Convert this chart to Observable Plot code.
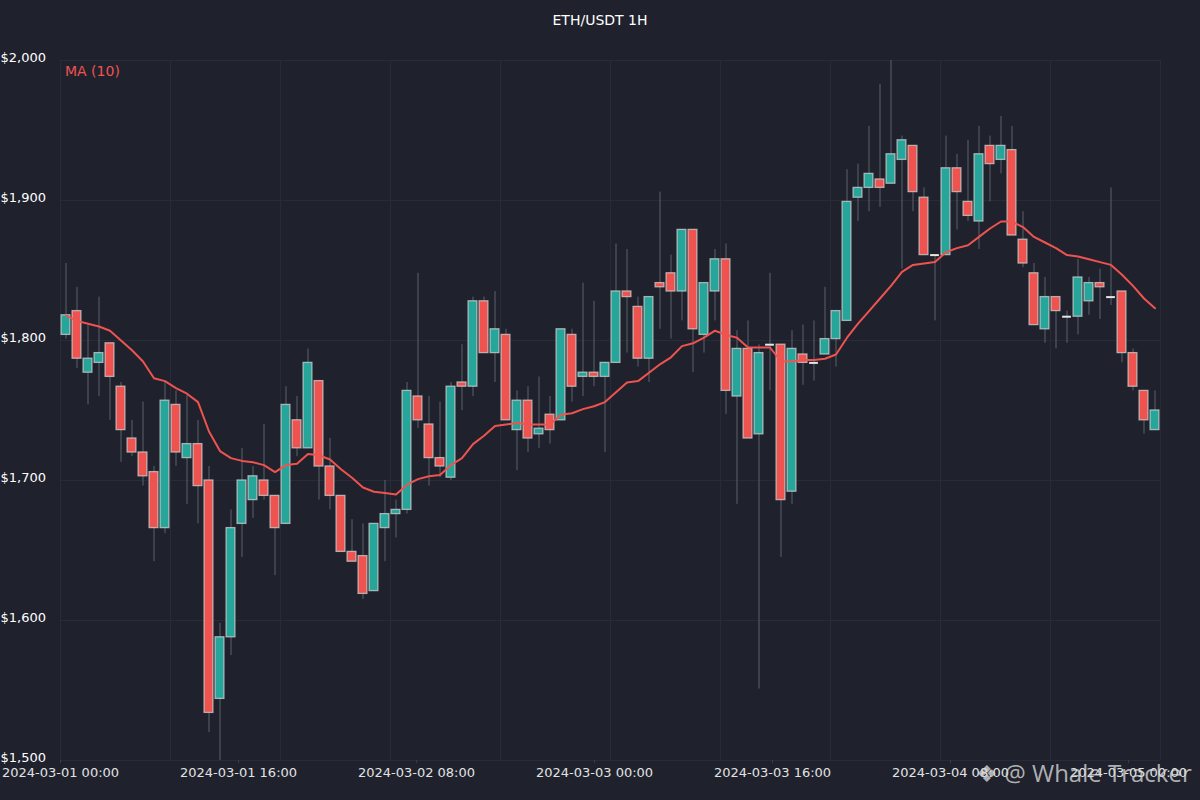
<!DOCTYPE html>
<html>
<head>
<meta charset="utf-8">
<script src="https://cdn.jsdelivr.net/npm/d3@7"></script>
<script src="https://cdn.jsdelivr.net/npm/@observablehq/plot@0.6"></script>
<style>
  html, body { margin: 0; padding: 0; background: #1f222d; }
  #wrap { position: relative; width: 1200px; height: 800px; overflow: hidden; font-family: "DejaVu Sans", sans-serif; }
  #title { position: absolute; top: 12px; left: 0; width: 1200px; text-align: center; color: #fff; font-size: 14px; }
  #legend { position: absolute; top: 63px; left: 65px; color: #ef5350; font-size: 14px; }
  #wm { position: absolute; left: 976px; top: 756px; color: rgba(215,215,215,0.8); font-family: "Open Sans", "Noto Sans", sans-serif; font-size: 24px; white-space: nowrap; }
  #chart { position: absolute; left: 0; top: 0; }
</style>
</head>
<body>
<div id="wrap">
  <div id="chart"></div>
  <div id="title"></div>
  <div id="legend"></div>
  <div id="wm">❖ @ Whale Tracker</div>
</div>
<script>
const titleText = "ETH/USDT 1H";
const legendText = "MA (10)";

const opens = [1804,1821,1777,1784,1798,1767,1730,1720,1706,1666,
  1754,1716,1726,1700,1544,1588,1669,1686,1700,1689,
  1669,1743,1723,1771,1710,1689,1649,1646,1621,1666,
  1676,1679,1760,1740,1716,1702,1770,1767,1828,1791,
  1804,1736,1757,1733,1747,1743,1804,1774,1777,1774,
  1784,1835,1824,1787,1841,1848,1835,1879,1804,1835,
  1858,1760,1794,1733,1797,1797,1692,1790,1784,1790,
  1801,1814,1902,1909,1915,1912,1929,1939,1902,1861,
  1861,1923,1899,1885,1939,1929,1936,1872,1848,1808,
  1831,1817,1817,1828,1841,1831,1835,1791,1764,1736];

const closes = [1818,1787,1787,1791,1774,1736,1720,1703,1666,1757,
  1720,1726,1696,1534,1588,1666,1700,1703,1689,1666,
  1754,1723,1784,1710,1689,1649,1642,1619,1669,1676,
  1679,1764,1743,1716,1710,1767,1767,1828,1791,1808,
  1743,1757,1730,1737,1736,1808,1767,1777,1774,1784,
  1835,1831,1787,1831,1838,1835,1879,1808,1841,1858,
  1764,1794,1730,1791,1797,1686,1794,1784,1784,1801,
  1821,1899,1909,1919,1909,1933,1943,1906,1861,1861,
  1923,1906,1889,1933,1926,1939,1875,1855,1811,1831,
  1821,1817,1845,1841,1838,1831,1791,1767,1743,1750];

const highs = [1855,1838,1811,1831,1798,1770,1743,1756,1710,1770,
  1764,1761,1743,1710,1598,1679,1723,1710,1740,1689,
  1767,1760,1794,1771,1730,1689,1672,1669,1669,1700,
  1686,1770,1848,1760,1756,1770,1797,1831,1831,1835,
  1808,1764,1767,1774,1760,1808,1808,1841,1828,1784,
  1869,1865,1831,1831,1906,1861,1879,1879,1841,1865,
  1869,1807,1814,1797,1848,1797,1807,1811,1814,1838,
  1821,1922,1926,1953,1983,2000,1946,1939,1909,1861,
  1946,1933,1943,1953,1946,1960,1953,1892,1855,1845,
  1831,1821,1858,1845,1851,1909,1835,1794,1764,1764];

const lows = [1801,1780,1754,1760,1743,1713,1717,1696,1642,1662,
  1710,1683,1669,1520,1500,1575,1645,1673,1686,1632,
  1669,1717,1723,1686,1679,1649,1642,1615,1621,1642,
  1659,1676,1737,1696,1702,1700,1750,1760,1791,1770,
  1743,1707,1720,1723,1726,1743,1756,1760,1767,1720,
  1784,1791,1781,1770,1808,1801,1814,1777,1791,1814,
  1747,1683,1730,1551,1764,1645,1683,1768,1771,1790,
  1781,1814,1885,1892,1895,1912,1851,1892,1861,1814,
  1861,1879,1885,1865,1899,1919,1875,1852,1811,1798,
  1794,1798,1804,1818,1815,1825,1784,1764,1733,1736];

const maValues = [1818,1814,1812,1810,1807,1800,1793,1785,1773,1771,
  1766,1762,1756,1735,1721,1716,1714,1713,1711,1706,
  1711,1712,1719,1718,1715,1708,1702,1695,1692,1691,
  1690,1697,1701,1703,1704,1711,1716,1726,1732,1739,
  1740,1741,1740,1740,1740,1747,1748,1751,1753,1756,
  1763,1770,1771,1777,1783,1788,1796,1798,1802,1807,
  1804,1802,1795,1795,1795,1785,1785,1786,1786,1787,
  1790,1802,1812,1821,1830,1839,1849,1854,1855,1856,
  1863,1866,1868,1874,1880,1885,1885,1881,1874,1870,
  1866,1861,1860,1858,1856,1854,1847,1839,1830,1823];

const yTickValues = [1500,1600,1700,1800,1900,2000];
const yTickLabels = ["$1,500","$1,600","$1,700","$1,800","$1,900","$2,000"];
const xTickPos = [0,16.18,32.36,48.55,64.73,80.91,97.09];
const xTickLabels = ["2024-03-01 00:00","2024-03-01 16:00","2024-03-02 08:00","2024-03-03 00:00","2024-03-03 16:00","2024-03-04 08:00","2024-03-05 00:00"];
const xGridPos = [0,10,20,30,40,50,60,70,80,90,100];

const upColor = "#26a69a";
const downColor = "#ef5350";
const gridColor = "#282c38";

document.getElementById("title").textContent = titleText;
document.getElementById("legend").textContent = legendText;

const candles = opens.map((o, i) => ({
  i, x: i + 0.5, open: o, close: closes[i], high: highs[i], low: lows[i], ma: maValues[i]
}));
const ups = candles.filter(d => d.close > d.open);
const downs = candles.filter(d => d.close < d.open);
const dojis = candles.filter(d => d.close === d.open);

const yLab = new Map(yTickValues.map((v, i) => [v, yTickLabels[i]]));
const xLab = new Map(xTickPos.map((v, i) => [v, xTickLabels[i]]));

const bodyOpts = (fill) => ({
  x1: d => d.i + 0.1, x2: d => d.i + 0.9, y1: "open", y2: "close",
  fill, stroke: "#d0d0d0", strokeOpacity: 0.75, strokeWidth: 1.3
});

const chart = Plot.plot({
  width: 1200, height: 800,
  marginTop: 60, marginBottom: 40, marginLeft: 60, marginRight: 40,
  style: { background: "#1f222d", color: "#fff", fontFamily: "DejaVu Sans, sans-serif", fontSize: "13px" },
  x: { domain: [0, 100] },
  y: { domain: [1500, 2000] },
  marks: [
    Plot.gridX(xGridPos, { stroke: gridColor, strokeOpacity: 1, strokeWidth: 1.2 }),
    Plot.gridY(yTickValues, { stroke: gridColor, strokeOpacity: 1, strokeWidth: 1.2 }),
    Plot.ruleX(candles, { x: "x", y1: "low", y2: "high", stroke: "#5c606a", strokeWidth: 1 }),
    Plot.rect(ups, bodyOpts(upColor)),
    Plot.rect(downs, bodyOpts(downColor)),
    Plot.ruleY(dojis, { y: "open", x1: d => d.i + 0.1, x2: d => d.i + 0.9, stroke: "#e6e6e6", strokeWidth: 2 }),
    Plot.line(candles, { x: "x", y: "ma", stroke: "#ef5350", strokeWidth: 2 }),
    Plot.axisY(yTickValues, { tickSize: 0, tickPadding: 60, textAnchor: "start", dy: -3, fill: "#fff", fontSize: 13, tickFormat: d => yLab.get(d), label: null }),
    Plot.axisX(xTickPos, { tickSize: 3, tickPadding: 4, stroke: "#3a3e4a", fill: "#e2e2e2", fontSize: 13, tickFormat: d => xLab.get(d), label: null })
  ]
});
document.getElementById("chart").appendChild(chart);
</script>
</body>
</html>
